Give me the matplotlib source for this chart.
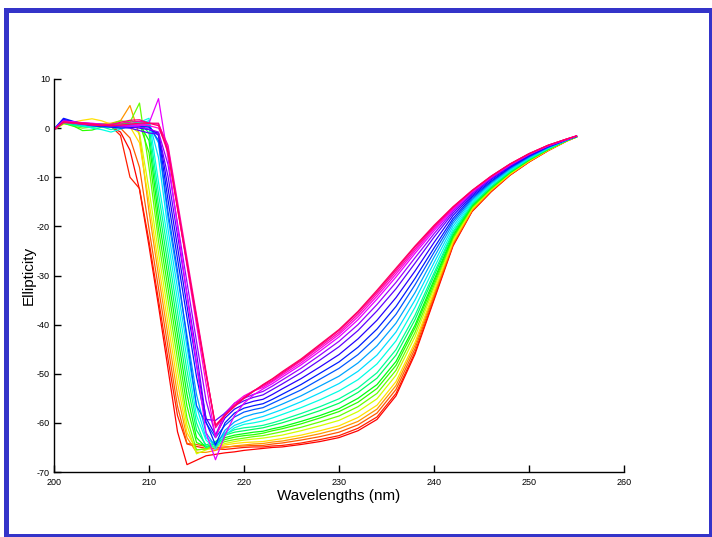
import matplotlib
matplotlib.use("Agg")
import matplotlib.pyplot as plt
from matplotlib.patches import Rectangle
import numpy as np

# Wavelength grid (nm)
wavelength = list(range(200, 225)) + list(range(226, 256, 2)) + [255]

# CD spectra, one scan per temperature step (mdeg)
scan_01 = [-0.3, 1.2, 1.0, 0.9, 0.8,
           0.6, 0.3, -0.8, -4.5, -12.5, -24.0, -36.2, -49.0, -61.8, -68.5, -67.6, -66.7, -66.4, -66.1, -65.9, -65.6, -65.4,
           -65.2, -65.0, -64.9,
           -64.4, -63.8, -63.0, -61.6, -59.3, -54.5, -46.0, -35.0, -24.0, -17.0, -13.0, -9.6, -6.9, -4.6, -2.6, -1.8]
scan_02 = [-0.2, 1.4, 1.1, 1.0, 0.9,
           0.8, 0.4, -1.5, -10.0, -12.3, -23.0, -35.0, -47.0, -58.5, -64.3, -64.8, -65.2, -65.3, -65.4, -65.2, -65.0, -64.9,
           -64.9, -64.7, -64.6,
           -64.1, -63.4, -62.6, -61.1, -58.8, -54.0, -45.6, -34.7, -23.8, -16.9, -12.9, -9.55, -6.9, -4.6, -2.6, -1.8]
scan_03 = [-0.4, 1.0, 0.9, 0.8, 0.8,
           0.7, 0.5, 0.0, -2.0, -8.0, -20.5, -32.6, -44.6, -56.6, -64.2, -64.4, -64.8, -65.0, -64.9, -64.8, -64.7, -64.6,
           -64.6, -64.3, -64.1,
           -63.5, -62.8, -61.9, -60.4, -58.0, -53.2, -44.9, -34.2, -23.6, -16.8, -12.8, -9.5, -6.8, -4.55, -2.6, -1.8]
scan_04 = [-0.3, 1.3, 1.2, 1.0, 0.9,
           0.9, 1.0, 1.5, 4.6, -1.5, -17.0, -30.0, -42.2, -54.2, -63.0, -66.0, -66.0, -65.6, -65.0, -64.7, -64.5, -64.3,
           -64.2, -63.9, -63.7,
           -63.0, -62.2, -61.2, -59.7, -57.2, -52.4, -44.2, -33.8, -23.4, -16.7, -12.7, -9.4, -6.8, -4.5, -2.6, -1.8]
scan_05 = [-0.3, 0.8, 1.2, 1.6, 1.9,
           1.5, 0.8, 0.6, 0.3, -3.0, -15.0, -27.8, -39.8, -51.8, -62.0, -65.5, -65.3, -64.8, -64.5, -64.2, -64.0, -63.9,
           -63.8, -63.5, -63.2,
           -62.5, -61.6, -60.6, -58.9, -56.4, -51.6, -43.6, -33.3, -23.1, -16.5, -12.6, -9.35, -6.7, -4.5, -2.6, -1.8]
scan_06 = [-0.2, 1.1, 0.8, 0.6, 0.7,
           0.8, 0.7, 0.6, 0.3, -1.0, -12.5, -25.4, -37.4, -49.4, -60.5, -66.3, -65.5, -64.8, -64.2, -63.8, -63.5, -63.3,
           -63.1, -62.8, -62.5,
           -61.6, -60.6, -59.5, -57.7, -55.1, -50.3, -42.5, -32.6, -22.7, -16.3, -12.5, -9.2, -6.6, -4.4, -2.5, -1.8]
scan_07 = [-0.3, 1.0, 0.4, 0.0, 0.2,
           0.5, 0.8, 1.5, 1.2, 5.1, -8.0, -23.0, -35.0, -47.0, -59.0, -65.5, -65.3, -64.6, -63.8, -63.4, -63.1, -62.8,
           -62.6, -62.2, -61.8,
           -60.9, -59.8, -58.6, -56.7, -54.0, -49.3, -41.6, -32.0, -22.4, -16.1, -12.4, -9.1, -6.55, -4.4, -2.5, -1.8]
scan_08 = [-0.2, 1.0, 0.5, -0.5, -0.4,
           0.2, 0.5, 0.8, 1.5, 1.0, -5.0, -20.6, -32.6, -44.6, -56.6, -64.0, -64.8, -64.3, -63.4, -62.9, -62.6, -62.4,
           -62.1, -61.6, -61.2,
           -60.2, -59.0, -57.7, -55.8, -53.0, -48.3, -40.7, -31.4, -22.1, -16.0, -12.2, -9.05, -6.5, -4.35, -2.5, -1.8]
scan_09 = [-0.4, 1.2, 0.7, 0.4, 0.5,
           0.6, 0.7, 0.8, 1.0, 0.8, -2.5, -18.2, -30.2, -42.2, -54.2, -63.0, -65.0, -64.2, -63.0, -62.5, -62.2, -61.9,
           -61.7, -61.2, -60.8,
           -59.7, -58.5, -57.1, -55.0, -52.2, -47.5, -40.1, -30.9, -21.8, -15.8, -12.1, -9.0, -6.45, -4.3, -2.5, -1.7]
scan_10 = [-0.3, 1.3, 0.9, 0.5, 0.4,
           0.4, 0.5, 0.6, 0.9, 1.2, -1.0, -15.8, -27.8, -39.8, -51.8, -61.5, -64.5, -63.8, -62.5, -61.9, -61.6, -61.3,
           -61.0, -60.5, -60.0,
           -58.8, -57.5, -56.0, -53.8, -50.9, -46.2, -39.0, -30.1, -21.4, -15.6, -12.0, -8.9, -6.35, -4.25, -2.5, -1.7]
scan_11 = [-0.2, 1.1, 0.6, 0.3, 0.2,
           0.3, -0.3, 0.2, 0.8, 1.3, 0.5, -13.4, -25.4, -37.4, -49.4, -60.0, -65.0, -64.0, -62.3, -61.4, -61.0, -60.8,
           -60.5, -60.0, -59.4,
           -58.1, -56.7, -55.1, -52.9, -49.8, -45.1, -38.1, -29.5, -21.1, -15.5, -11.9, -8.8, -6.3, -4.2, -2.4, -1.7]
scan_12 = [-0.3, 1.5, 1.0, 0.5, 0.0,
           -0.3, -0.8, -0.2, 0.5, 1.2, 2.0, -11.0, -23.0, -35.0, -47.0, -58.5, -63.5, -65.3, -62.5, -61.0, -60.3, -60.0,
           -59.6, -59.0, -58.3,
           -56.9, -55.3, -53.5, -51.2, -48.0, -43.3, -36.5, -28.5, -20.6, -15.2, -11.6, -8.6, -6.15, -4.1, -2.4, -1.7]
scan_13 = [-0.2, 1.6, 1.0, 0.6, 0.4,
           0.3, 0.2, 0.4, 0.6, 0.9, 1.5, -6.0, -20.6, -32.6, -44.6, -56.6, -63.0, -64.5, -62.0, -60.5, -59.8, -59.2,
           -58.7, -58.0, -57.3,
           -55.7, -53.9, -52.0, -49.5, -46.2, -41.5, -35.0, -27.4, -20.0, -14.9, -11.4, -8.45, -6.05, -4.05, -2.4, -1.7]
scan_14 = [-0.4, 1.4, 0.9, 0.7, 0.6,
           0.5, 0.4, 0.3, 0.5, 0.6, 0.7, -3.0, -18.2, -30.2, -42.2, -54.2, -62.0, -64.8, -61.5, -59.8, -58.8, -58.2,
           -57.8, -57.0, -56.2,
           -54.5, -52.5, -50.5, -47.8, -44.3, -39.7, -33.5, -26.3, -19.4, -14.6, -11.2, -8.3, -5.95, -3.95, -2.4, -1.7]
scan_15 = [-0.3, 1.7, 1.2, 1.0, 0.9,
           0.8, 0.6, 0.5, 0.2, 0.3, 0.4, -2.5, -17.0, -29.0, -43.0, -56.5, -60.0, -63.0, -60.5, -58.8, -57.8, -57.3,
           -56.9, -56.0, -55.1,
           -53.3, -51.1, -48.9, -46.1, -42.5, -37.9, -31.9, -25.3, -18.9, -14.3, -11.0, -8.1, -5.8, -3.9, -2.4, -1.7]
scan_16 = [-0.2, 2.0, 1.4, 0.9, 0.5,
           0.3, 0.2, 0.0, 0.1, 0.3, 0.2, -1.5, -14.6, -26.6, -38.6, -50.6, -59.8, -64.5, -60.0, -58.0, -57.0, -56.5,
           -56.1, -55.2, -54.2,
           -52.2, -49.9, -47.6, -44.6, -40.9, -36.3, -30.6, -24.4, -18.4, -14.0, -10.8, -8.0, -5.7, -3.8, -2.3, -1.7]
scan_17 = [-0.3, 1.8, 1.3, 1.0, 0.8,
           0.6, 0.5, 0.5, 0.3, 0.0, -0.3, -1.0, -12.2, -24.2, -36.2, -48.2, -59.0, -62.5, -59.0, -57.2, -56.2, -55.6,
           -55.2, -54.2, -53.1,
           -51.0, -48.6, -46.1, -42.9, -39.1, -34.5, -29.1, -23.3, -17.8, -13.7, -10.5, -7.8, -5.6, -3.75, -2.3, -1.6]
scan_18 = [-0.3, 1.6, 1.1, 0.8, 0.6,
           0.5, 0.4, 0.3, 0.0, -0.5, -1.0, -1.2, -9.8, -21.8, -33.8, -45.8, -59.3, -59.5, -58.0, -56.5, -55.5, -54.8,
           -54.3, -53.2, -52.1,
           -49.8, -47.2, -44.5, -41.2, -37.2, -32.7, -27.5, -22.2, -17.3, -13.4, -10.3, -7.7, -5.45, -3.7, -2.3, -1.6]
scan_19 = [-0.2, 1.5, 1.2, 1.0, 0.9,
           0.7, 0.6, 0.5, 0.4, 0.2, -0.2, -0.8, -7.4, -19.4, -31.4, -43.4, -55.4, -62.5, -58.0, -56.0, -55.0, -54.2,
           -53.6, -52.5, -51.3,
           -48.9, -46.2, -43.4, -40.0, -35.9, -31.4, -26.4, -21.5, -16.9, -13.2, -10.2, -7.55, -5.4, -3.6, -2.3, -1.6]
scan_20 = [-0.3, 1.4, 1.3, 1.1, 1.0,
           0.8, 0.6, 0.5, 0.4, 0.5, 1.0, 6.0, -6.0, -20.0, -34.0, -48.0, -62.0, -67.5, -62.5, -58.5, -56.0, -54.3,
           -53.1, -52.0, -50.7,
           -48.2, -45.4, -42.5, -39.0, -34.8, -30.3, -25.5, -20.9, -16.6, -13.0, -10.0, -7.5, -5.3, -3.6, -2.3, -1.6]
scan_21 = [-0.4, 1.3, 1.2, 1.0, 0.8,
           0.6, 0.5, 0.6, 0.8, 0.7, 0.5, 0.0, -4.0, -16.0, -28.0, -40.0, -52.0, -63.0, -58.5, -56.0, -54.5, -53.5,
           -52.8, -51.6, -50.3,
           -47.8, -44.9, -42.0, -38.4, -34.2, -29.7, -25.0, -20.5, -16.4, -12.9, -9.9, -7.4, -5.3, -3.55, -2.2, -1.6]
scan_22 = [-0.3, 1.2, 1.1, 1.0, 0.9,
           0.7, 0.8, 1.0, 1.2, 1.4, 1.0, 0.8, -3.5, -15.0, -26.5, -38.0, -49.5, -61.0, -58.5, -56.5, -54.8, -53.5,
           -52.5, -51.4, -50.0,
           -47.4, -44.5, -41.6, -37.9, -33.7, -29.2, -24.6, -20.2, -16.2, -12.8, -9.9, -7.35, -5.25, -3.5, -2.2, -1.6]
scan_23 = [-0.2, 1.1, 1.0, 0.8, 0.6,
           0.5, 0.7, 1.2, 1.6, 1.7, 1.0, 1.0, -4.5, -16.0, -27.5, -39.0, -50.0, -60.5, -58.3, -56.4, -54.9, -53.5,
           -52.3, -51.1, -49.8,
           -47.2, -44.2, -41.2, -37.5, -33.3, -28.8, -24.2, -20.0, -16.1, -12.7, -9.8, -7.3, -5.2, -3.5, -2.2, -1.6]
scan_24 = [-0.3, 1.3, 1.1, 1.0, 0.8,
           0.6, 0.5, 0.6, 0.8, 1.0, 1.0, 0.5, -5.0, -16.5, -27.5, -38.5, -50.0, -60.6, -58.5, -56.7, -55.0, -53.6,
           -52.2, -51.0, -49.6,
           -47.0, -44.0, -41.0, -37.3, -33.0, -28.5, -24.0, -19.8, -16.0, -12.7, -9.8, -7.3, -5.2, -3.5, -2.2, -1.6]

scans = [scan_01, scan_02, scan_03, scan_04, scan_05, scan_06, scan_07, scan_08,
         scan_09, scan_10, scan_11, scan_12, scan_13, scan_14, scan_15, scan_16,
         scan_17, scan_18, scan_19, scan_20, scan_21, scan_22, scan_23, scan_24]

x_ticks = [200, 210, 220, 230, 240, 250, 260]
y_ticks = [-70, -60, -50, -40, -30, -20, -10, 0, 10]

plt.rcParams['font.family'] = ['Liberation Sans', 'DejaVu Sans']
plt.rcParams['axes.unicode_minus'] = False

W, H = 712, 537
fig = plt.figure(figsize=(W / 100, H / 100), dpi=100)
ax = fig.add_axes([54 / W, (H - 472) / H, 570 / W, 393 / H])

# rainbow palette, red (first scan) through pink (last scan)
hues = [0.0, 0.02, 0.06, 0.10, 0.15, 0.20, 0.27, 0.31, 0.35, 0.40, 0.44, 0.49,
        0.53, 0.57, 0.62, 0.66, 0.70, 0.74, 0.78, 0.83, 0.87, 0.90, 0.93, 0.95]
colors = plt.cm.hsv(hues)
for values, c in zip(scans, colors):
    ax.plot(wavelength, values, color=c, lw=0.9)

ax.set_xlim(200, 260)
ax.set_ylim(-70, 10)
ax.set_xticks(x_ticks)
ax.set_yticks(y_ticks)
for side in ("top", "right"):
    ax.spines[side].set_visible(False)
for side in ("left", "bottom"):
    ax.spines[side].set_linewidth(1.0)
ax.tick_params(direction="in", length=5, width=1.0, labelsize=6.5)
ax.tick_params(axis="x", pad=4)
ax.tick_params(axis="y", pad=3)
ax.set_xlabel("Wavelengths (nm)", fontsize=11, labelpad=2)
ax.set_ylabel("Ellipticity", fontsize=11, labelpad=1)

# Slide frame
frame = Rectangle((5.8 / W, 1.5 / H), (710.5 - 5.8) / W, 526.0 / H,
                  transform=fig.transFigure, fill=False,
                  edgecolor="#3434c9", linewidth=3.6, clip_on=False)
fig.patches.append(frame)

fig.savefig("out.png", dpi=100)
